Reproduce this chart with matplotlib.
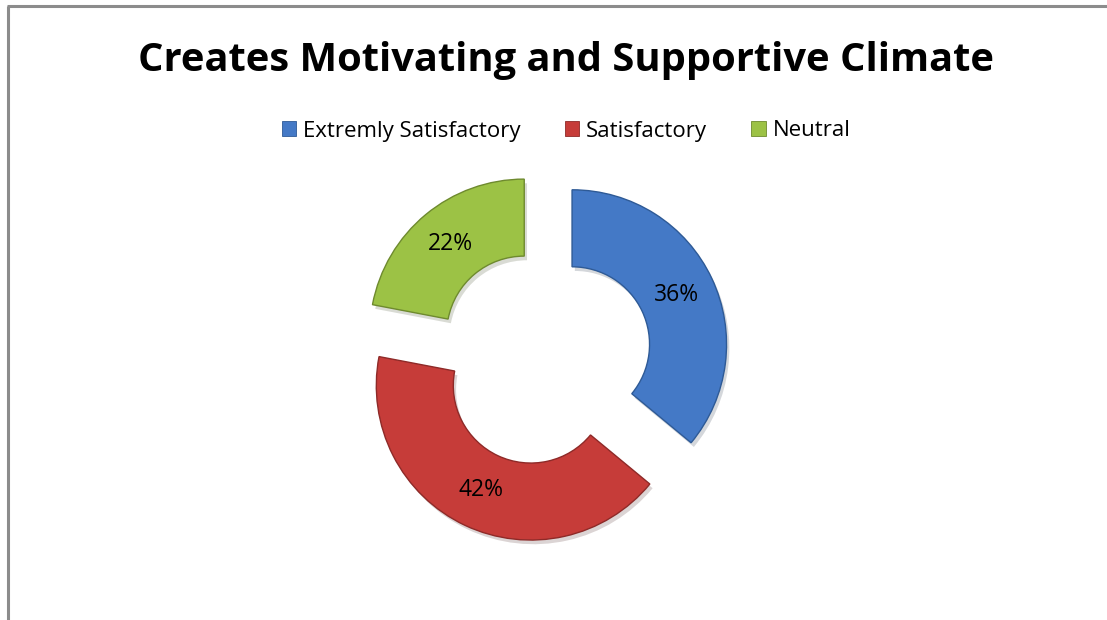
import matplotlib.pyplot as plt
import matplotlib.patheffects as pe
from matplotlib.patches import Patch

labels = ["Extremly Satisfactory", "Satisfactory", "Neutral"]
shares = [36, 42, 22]
colors = ["#4479C6", "#C63C39", "#9CC245"]
edges = ["#2E5A96", "#8E2A28", "#6E8A2E"]

W, H = 1107, 620


def main():
    fig = plt.figure(figsize=(W / 100, H / 100), dpi=100)
    ax = fig.add_axes([0, 0, 1, 1])

    # explode is in data units here (pixels), not a fraction of the radius
    wedges, texts = ax.pie(
        shares,
        colors=colors,
        startangle=90,
        counterclock=False,
        center=(544, H - 357.5),
        radius=154.5,
        explode=[31] * len(shares),
        labels=[f"{v}%" for v in shares],
        labeldistance=0.75,
        wedgeprops=dict(width=77, linewidth=1.0),
        textprops=dict(fontsize=16.5, family="Open Sans", color="black",
                       ha="center", va="center"),
    )
    for w, ec in zip(wedges, edges):
        w.set_edgecolor(ec)
        w.set_path_effects([pe.SimplePatchShadow(offset=(2, -3), alpha=0.18),
                            pe.Normal()])

    ax.set_xlim(0, W)
    ax.set_ylim(0, H)
    ax.set_aspect("equal")
    ax.axis("off")

    # frame lines on top and left
    ax.plot([7, W], [H - 6, H - 6], color="#8c8c8c", lw=2.2, solid_capstyle="butt")
    ax.plot([8, 8], [0, H - 6], color="#8c8c8c", lw=2.2, solid_capstyle="butt")

    ax.text(566, H - 60, "Creates Motivating and Supportive Climate",
            fontsize=28.7, fontweight="bold", family="Open Sans",
            ha="center", va="center")

    handles = [Patch(facecolor=c, edgecolor=e, lw=0.6) for c, e in zip(colors, edges)]
    ax.legend(handles, labels, ncol=3, loc="center",
              bbox_to_anchor=(566 / W, 1 - 131 / H), frameon=False,
              prop=dict(family="Open Sans", size=16),
              handlelength=0.65, handleheight=0.65, handletextpad=0.3,
              columnspacing=2.0)

    fig.savefig("out.png", dpi=100)


if __name__ == '__main__':
    main()
